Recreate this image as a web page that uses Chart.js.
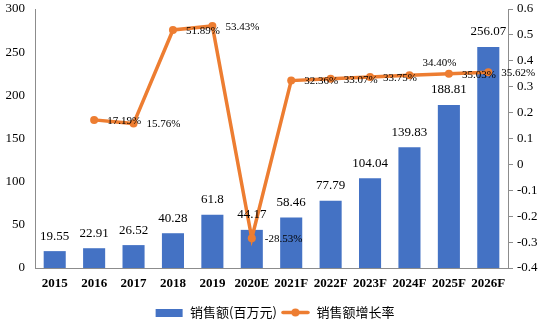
<!DOCTYPE html>
<html>
<head>
<meta charset="utf-8">
<script src="https://cdn.jsdelivr.net/npm/chart.js@4/dist/chart.umd.min.js"></script>
<style>
  html, body { margin: 0; padding: 0; background: #fff; }
  #wrap { width: 549px; height: 332px; }
</style>
</head>
<body>
<div id="wrap"><canvas id="myChart" width="549" height="332"></canvas></div>
<script>
// data
const years = ["2015", "2016", "2017", "2018", "2019", "2020E", "2021F", "2022F", "2023F", "2024F", "2025F", "2026F"];
const sales = [19.55, 22.91, 26.52, 40.28, 61.8, 44.17, 58.46, 77.79, 104.04, 139.83, 188.81, 256.07];
const growth = [null, 0.1719, 0.1576, 0.5189, 0.5343, -0.2853, 0.3236, 0.3307, 0.3375, 0.344, 0.3503, 0.3562];
const salesLabel = "销售额(百万元)";
const growthLabel = "销售额增长率";

const blue = "#4472C4";
const orange = "#ED7D31";
const serif = "'Liberation Serif', 'Times New Roman', serif";
const cjk = "'Noto Sans CJK SC', 'Noto Sans', sans-serif";

// little legend pictures: a blue box and an orange line with a dot
const makeIcon = (type) => {
  const c = document.createElement("canvas");
  c.width = 29;
  c.height = 9;
  const g = c.getContext("2d");
  if (type === "bar") {
    g.fillStyle = blue;
    g.fillRect(1, 1, 27, 8);
  } else {
    g.strokeStyle = orange;
    g.lineWidth = 3.5;
    g.lineCap = "round";
    g.beginPath();
    g.moveTo(2, 4.5);
    g.lineTo(27, 4.5);
    g.stroke();
    g.fillStyle = orange;
    g.beginPath();
    g.arc(14.5, 4.5, 4, 0, Math.PI * 2);
    g.fill();
  }
  return c;
};
const barIcon = makeIcon("bar");
const lineIcon = makeIcon("line");

// value labels above the bars and next to the line points
const valueLabels = {
  id: "valueLabels",
  afterDatasetsDraw(chart) {
    const ctx = chart.ctx;
    ctx.save();
    ctx.fillStyle = "#000";
    ctx.textBaseline = "middle";

    // bars
    ctx.font = "13px " + serif;
    ctx.textAlign = "center";
    chart.getDatasetMeta(0).data.forEach((bar, i) => {
      ctx.fillText(String(sales[i]), bar.x, bar.y - 15);
    });

    // line
    ctx.font = "11px " + serif;
    ctx.textAlign = "left";
    chart.getDatasetMeta(1).data.forEach((pt, i) => {
      if (growth[i] === null) return;
      const lift = i === 9 ? -13 : 0; // 2024F label sits a bit higher
      ctx.fillText((growth[i] * 100).toFixed(2) + "%", pt.x + 13, pt.y + 1 + lift);
    });
    ctx.restore();
  },
};

// keep the plot box where the picture has it
const noPad = (scale) => {
  scale.paddingTop = 0;
  scale.paddingBottom = 0;
};

const ctx = document.getElementById("myChart").getContext("2d");
const myChart = new Chart(ctx, {
  type: "bar",
  data: {
    labels: years,
    datasets: [
      {
        type: "bar",
        label: salesLabel,
        data: sales,
        backgroundColor: blue,
        yAxisID: "y",
        categoryPercentage: 1,
        barPercentage: 0.56,
        order: 2,
      },
      {
        type: "line",
        label: growthLabel,
        data: growth,
        borderColor: orange,
        backgroundColor: orange,
        borderWidth: 3.5,
        pointRadius: 4,
        pointHoverRadius: 4,
        pointBackgroundColor: orange,
        pointBorderWidth: 0,
        yAxisID: "y1",
        order: 1,
      },
    ],
  },
  options: {
    responsive: false,
    animation: false,
    layout: { autoPadding: false, padding: { top: 9, left: 0, right: 0, bottom: 3 } },
    plugins: {
      tooltip: { enabled: false },
      legend: {
        position: "bottom",
        labels: {
          usePointStyle: true,
          pointStyleWidth: 29,
          boxHeight: 9,
          padding: 4,
          color: "#000",
          font: { family: cjk, size: 13 },
          generateLabels: (chart) => [
            { text: salesLabel, pointStyle: barIcon, datasetIndex: 0, fillStyle: blue, strokeStyle: blue, lineWidth: 0 },
            { text: growthLabel, pointStyle: lineIcon, datasetIndex: 1, fillStyle: orange, strokeStyle: orange, lineWidth: 0 },
          ],
        },
      },
    },
    scales: {
      x: {
        grid: { display: false, drawTicks: false, tickLength: 0 },
        border: { display: true, color: "#8c8c8c", width: 1 },
        ticks: {
          color: "#000",
          padding: 8,
          maxRotation: 0,
          autoSkip: false,
          font: { family: serif, size: 13, weight: "bold" },
        },
        afterFit: (scale) => { scale.height = 34; },
      },
      y: {
        position: "left",
        min: 0,
        max: 300,
        grid: { display: false, drawTicks: false, tickLength: 0 },
        border: { display: true, color: "#8c8c8c", width: 1 },
        ticks: {
          stepSize: 50,
          color: "#000",
          padding: 10,
          font: { family: serif, size: 13 },
        },
        afterFit: (scale) => { scale.width = 35; noPad(scale); },
      },
      y1: {
        position: "right",
        min: -0.4,
        max: 0.6,
        grid: { display: true, drawOnChartArea: false, drawTicks: true, tickLength: 5, color: "#8c8c8c" },
        border: { display: true, color: "#8c8c8c", width: 1 },
        ticks: {
          stepSize: 0.1,
          color: "#000",
          padding: 4,
          font: { family: serif, size: 13 },
          callback: (v) => String(Math.round(v * 10) / 10),
        },
        afterFit: (scale) => { scale.width = 41; noPad(scale); },
      },
    },
  },
  plugins: [valueLabels],
});
</script>
</body>
</html>
